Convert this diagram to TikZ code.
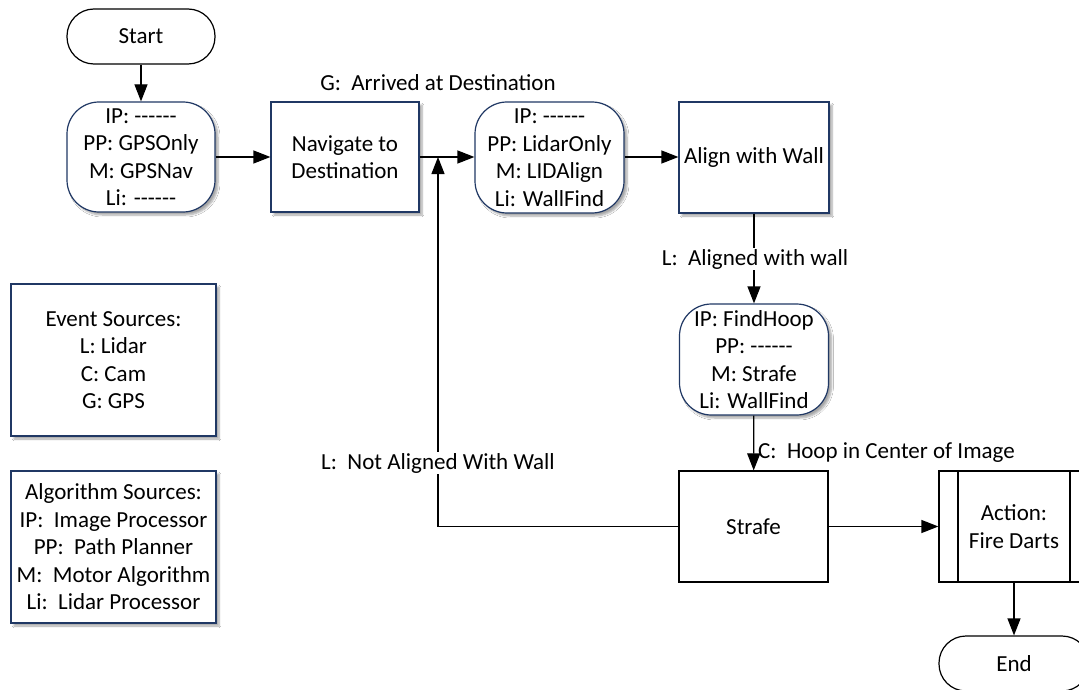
\documentclass[tikz,border=0pt]{standalone}
\usepackage{fontspec}
\setmainfont{Carlito}
\usetikzlibrary{shadows,shadows.blur,arrows.meta,calc}
\definecolor{navy}{RGB}{32,56,100}
\tikzset{
  every node/.style={font=\fontsize{23}{27.5}\selectfont, align=center, inner sep=0pt},
  conn/.style={line width=1.2pt, -{Triangle[length=17pt,width=13pt]}},
  plainline/.style={line width=1.2pt},
  shadowed/.style={blur shadow={shadow xshift=3pt, shadow yshift=-3pt, shadow opacity=35, shadow blur steps=6}},
  statebox/.style={draw=navy, line width=1.2pt, fill=white, rounded corners=32pt, minimum width=148pt, minimum height=110pt, shadowed},
  procbox/.style={draw=navy, line width=1.2pt, fill=white, minimum width=148pt, minimum height=110pt, shadowed},
  plainbox/.style={draw=black, line width=1.2pt, fill=white, minimum width=149pt, minimum height=111pt},
  termbox/.style={draw=black, line width=1.2pt, fill=white, rounded corners=27pt, minimum width=148pt, minimum height=55pt},
  legendbox/.style={draw=navy, line width=1.2pt, fill=white, minimum width=205pt, minimum height=152pt, shadowed},
  predef/.style={plainbox, minimum width=150pt, path picture={
      \draw[line width=1.2pt] ([xshift=19pt]path picture bounding box.north west) -- ([xshift=19pt]path picture bounding box.south west);
      \draw[line width=1.2pt] ([xshift=-19pt]path picture bounding box.north east) -- ([xshift=-19pt]path picture bounding box.south east);}},
  lbl/.style={fill=white, inner sep=1pt},
}
\begin{document}
\begin{tikzpicture}[x=1pt,y=-1pt]
\useasboundingbox (0,0) rectangle (1079,690);
\clip (0,0) rectangle (1079,690);
\fill[white] (0,0) rectangle (1079,690);

\node[termbox] (start) at (141,36.5) {Start};
\node[statebox] (s1) at (141,157) {IP: -{}-{}-{}-{}-{}-\\PP: GPSOnly\\M: GPSNav\\Li: -{}-{}-{}-{}-{}-};
\node[procbox] (nav) at (345,157) {Navigate to\\Destination};
\node[statebox, minimum width=149pt, minimum height=111pt] (s2) at (549.5,157.5) {IP: -{}-{}-{}-{}-{}-\\PP: LidarOnly\\M: LIDAlign\\Li: WallFind};
\node[procbox, minimum width=150pt, minimum height=111pt] (align) at (754,157.5) {Align with Wall};
\node[statebox, minimum width=149pt, minimum height=111pt] (s3) at (754,359.5) {IP: FindHoop\\PP: -{}-{}-{}-{}-{}-\\M: Strafe\\Li: WallFind};
\node[plainbox] (strafe) at (753.5,526.5) {Strafe};
\node[predef] (fire) at (1014,526.5) {Action:\\Fire Darts};
\node[termbox, minimum width=150pt] (end) at (1014,663.5) {End};

\node[legendbox] (events) at (113.5,360) {Event Sources:\\L: Lidar\\C: Cam\\G: GPS};
\node[legendbox] (algos) at (113.5,547) {Algorithm Sources:\\IP:\ \ Image Processor\\PP:\ \ Path Planner\\M:\ \ Motor Algorithm\\Li:\ \ Lidar Processor};

\coordinate (j) at (438,157);

\draw[conn] (start) -- (s1);
\draw[conn] (s1) -- (nav);
\draw[conn] (nav.east |- j) -- (s2.west |- j);
\draw[conn] (s2.east |- j) -- (align.west |- j);
\draw[conn] (align) -- (s3);
\draw[conn] (s3) -- (strafe);
\draw[conn] (strafe) -- (fire);
\draw[conn] (fire) -- (end);
\draw[conn] (strafe.west) -| (j);

\node (lblG) at (438,83) {G:\ \ Arrived at Destination};
\node[lbl] (lblA) at (755,259) {L:\ \ Aligned with wall};
\node[anchor=west] (lblC) at (758,453) {C:\ \ Hoop in Center of Image};
\node[lbl] (lblN) at (438,463) {L:\ \ Not Aligned With Wall};
\end{tikzpicture}
\end{document}
